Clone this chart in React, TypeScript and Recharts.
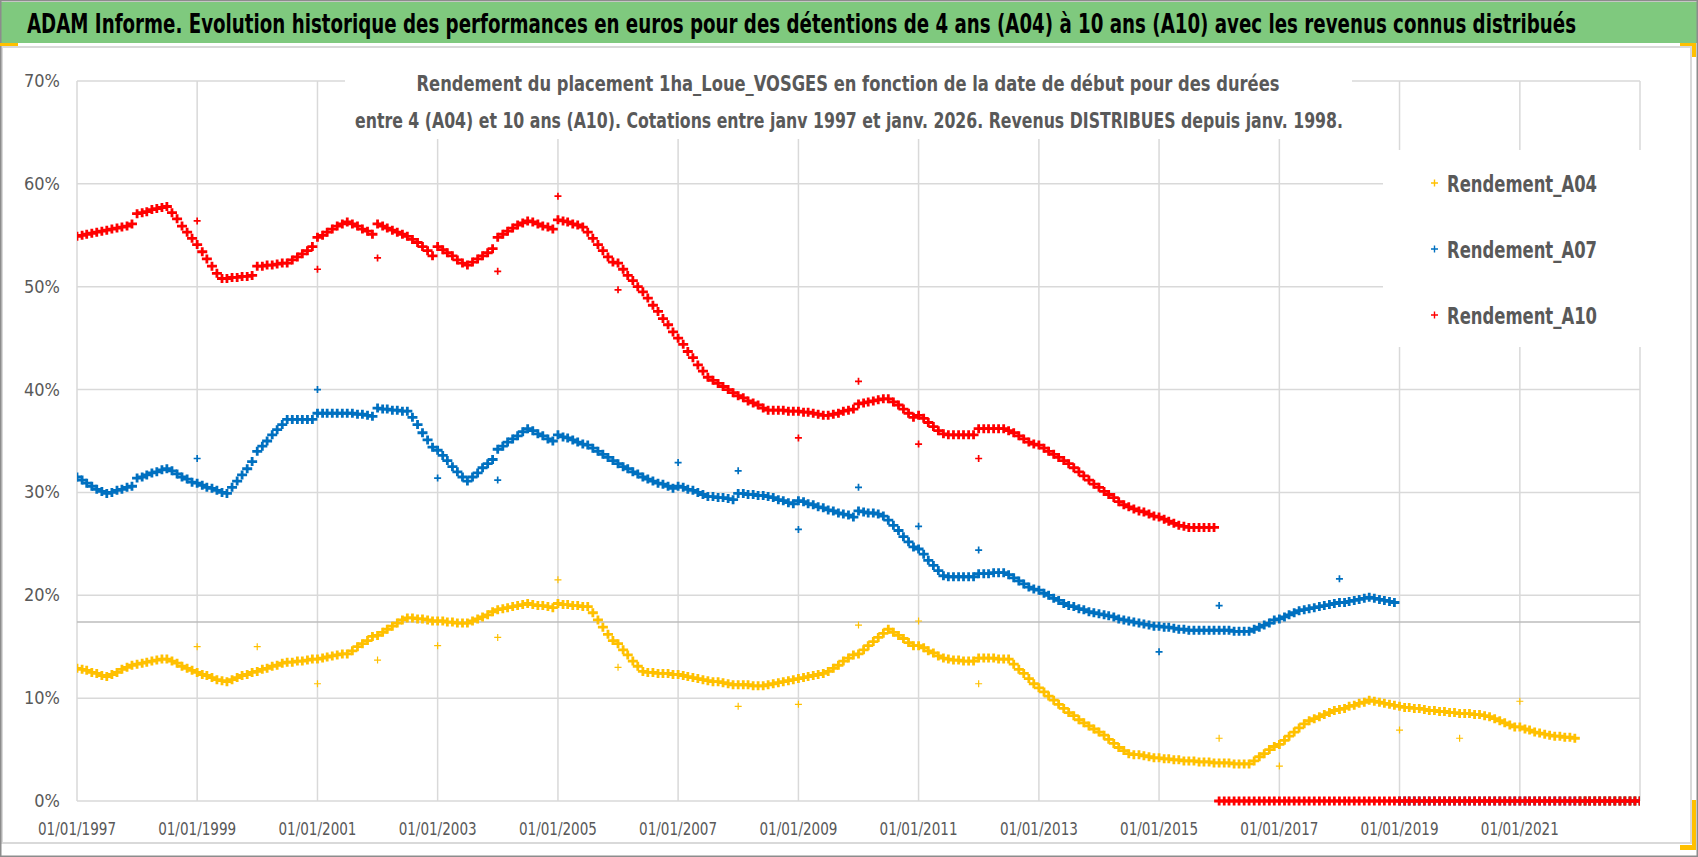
import { ScatterChart, Scatter, XAxis, YAxis, CartesianGrid, ReferenceLine, Legend } from 'recharts';

// monthly values (1st of each month), one row per year
const A04_START = 1997;
const A04_MONTHLY: number[][] = [
  [12.9, 12.8, 12.7, 12.5, 12.4, 12.2, 12.1, 12.3, 12.5, 12.8, 13.0, 13.2],
  [13.3, 13.4, 13.5, 13.6, 13.7, 13.8, 13.8, 13.6, 13.4, 13.1, 12.9, 12.7],
  [12.5, 12.3, 12.2, 12.0, 11.8, 11.7, 11.6, 11.8, 12.0, 12.2, 12.3, 12.5],
  [12.6, 12.8, 12.9, 13.1, 13.2, 13.4, 13.5, 13.5, 13.6, 13.6, 13.7, 13.8],
  [13.8, 13.9, 14.0, 14.1, 14.2, 14.3, 14.3, 14.6, 15.0, 15.3, 15.6, 16.0],
  [16.1, 16.4, 16.7, 17.0, 17.3, 17.6, 17.8, 17.8, 17.7, 17.7, 17.6, 17.5],
  [17.5, 17.5, 17.4, 17.4, 17.3, 17.3, 17.3, 17.5, 17.7, 17.9, 18.1, 18.4],
  [18.6, 18.7, 18.8, 18.9, 19.0, 19.1, 19.2, 19.1, 19.0, 19.0, 18.9, 18.8],
  [19.2, 19.1, 19.1, 19.0, 19.0, 18.9, 18.9, 18.3, 17.6, 16.9, 16.2, 15.6],
  [15.3, 14.7, 14.2, 13.6, 13.1, 12.6, 12.5, 12.5, 12.4, 12.4, 12.4, 12.3],
  [12.3, 12.2, 12.1, 12.0, 11.9, 11.8, 11.7, 11.6, 11.6, 11.5, 11.4, 11.3],
  [11.3, 11.3, 11.3, 11.2, 11.2, 11.2, 11.3, 11.4, 11.5, 11.6, 11.7, 11.8],
  [11.9, 12.0, 12.1, 12.2, 12.3, 12.4, 12.6, 12.9, 13.2, 13.6, 13.9, 14.2],
  [14.3, 14.7, 15.1, 15.5, 15.9, 16.3, 16.7, 16.4, 16.1, 15.8, 15.4, 15.1],
  [15.1, 14.9, 14.6, 14.4, 14.1, 13.9, 13.8, 13.7, 13.7, 13.6, 13.6, 13.6],
  [13.9, 13.9, 13.9, 13.9, 13.8, 13.8, 13.8, 13.3, 12.8, 12.4, 11.9, 11.4],
  [11.0, 10.6, 10.2, 9.8, 9.4, 9.0, 8.6, 8.3, 7.9, 7.6, 7.3, 7.0],
  [6.7, 6.4, 6.0, 5.6, 5.2, 4.9, 4.6, 4.5, 4.5, 4.4, 4.3, 4.2],
  [4.2, 4.1, 4.1, 4.0, 4.0, 3.9, 3.9, 3.9, 3.8, 3.8, 3.8, 3.7],
  [3.7, 3.7, 3.7, 3.6, 3.6, 3.6, 3.6, 3.9, 4.3, 4.6, 5.0, 5.3],
  [5.5, 5.9, 6.3, 6.7, 7.1, 7.5, 7.8, 8.0, 8.2, 8.4, 8.6, 8.8],
  [8.9, 9.0, 9.2, 9.3, 9.5, 9.6, 9.8, 9.7, 9.6, 9.5, 9.4, 9.3],
  [9.2, 9.1, 9.1, 9.0, 9.0, 8.9, 8.8, 8.8, 8.7, 8.7, 8.6, 8.6],
  [8.5, 8.5, 8.5, 8.4, 8.4, 8.3, 8.2, 8.0, 7.8, 7.6, 7.4, 7.2],
  [7.2, 7.0, 6.9, 6.7, 6.6, 6.5, 6.4, 6.3, 6.3, 6.2, 6.2, 6.1],
  [0, 0, 0, 0, 0, 0, 0, 0, 0, 0, 0, 0],
  [0],
];

const A07_START = 1997;
const A07_MONTHLY: number[][] = [
  [31.5, 31.2, 30.9, 30.6, 30.3, 30.1, 29.9, 30.0, 30.2, 30.3, 30.5, 30.6],
  [31.4, 31.5, 31.7, 31.9, 32.0, 32.2, 32.3, 32.1, 31.8, 31.5, 31.3, 31.0],
  [30.9, 30.7, 30.5, 30.4, 30.2, 30.0, 29.9, 30.5, 31.1, 31.7, 32.3, 33.0],
  [34.0, 34.5, 35.0, 35.6, 36.1, 36.6, 37.1, 37.1, 37.1, 37.1, 37.1, 37.1],
  [37.7, 37.7, 37.7, 37.7, 37.7, 37.7, 37.7, 37.7, 37.6, 37.6, 37.5, 37.4],
  [38.2, 38.1, 38.1, 38.0, 38.0, 37.9, 37.9, 37.3, 36.6, 35.8, 35.1, 34.4],
  [34.1, 33.6, 33.1, 32.5, 32.0, 31.5, 31.1, 31.5, 31.9, 32.4, 32.8, 33.2],
  [34.2, 34.5, 34.9, 35.2, 35.5, 35.9, 36.2, 36.0, 35.7, 35.5, 35.2, 35.0],
  [35.6, 35.4, 35.3, 35.1, 34.9, 34.7, 34.6, 34.3, 34.0, 33.7, 33.4, 33.1],
  [32.8, 32.5, 32.3, 32.0, 31.8, 31.5, 31.3, 31.1, 30.9, 30.8, 30.6, 30.4],
  [30.6, 30.5, 30.3, 30.2, 30.0, 29.8, 29.6, 29.6, 29.5, 29.5, 29.4, 29.3],
  [29.9, 29.9, 29.8, 29.8, 29.7, 29.7, 29.6, 29.5, 29.3, 29.2, 29.0, 28.9],
  [29.2, 29.1, 28.9, 28.8, 28.6, 28.5, 28.3, 28.2, 28.0, 27.9, 27.8, 27.6],
  [28.2, 28.1, 28.0, 28.0, 27.9, 27.7, 27.3, 26.8, 26.3, 25.7, 25.2, 24.7],
  [24.5, 24.0, 23.4, 22.9, 22.4, 21.9, 21.8, 21.8, 21.8, 21.8, 21.8, 21.8],
  [22.1, 22.1, 22.1, 22.2, 22.2, 22.2, 22.0, 21.7, 21.4, 21.1, 20.8, 20.6],
  [20.5, 20.2, 20.0, 19.7, 19.5, 19.2, 19.0, 18.9, 18.7, 18.6, 18.4, 18.3],
  [18.2, 18.1, 18.0, 17.9, 17.7, 17.6, 17.5, 17.4, 17.3, 17.2, 17.1, 17.0],
  [17.0, 16.9, 16.9, 16.8, 16.7, 16.7, 16.6, 16.6, 16.6, 16.6, 16.6, 16.6],
  [16.6, 16.6, 16.6, 16.5, 16.5, 16.5, 16.5, 16.7, 16.9, 17.1, 17.3, 17.6],
  [17.7, 17.9, 18.1, 18.3, 18.5, 18.6, 18.7, 18.8, 18.9, 19.0, 19.1, 19.2],
  [19.3, 19.3, 19.4, 19.5, 19.6, 19.7, 19.8, 19.7, 19.6, 19.5, 19.4, 19.3],
  [0, 0, 0, 0, 0, 0, 0, 0, 0, 0, 0, 0],
  [0, 0, 0, 0, 0, 0, 0, 0, 0, 0, 0, 0],
  [0, 0, 0, 0, 0, 0, 0, 0, 0, 0, 0, 0],
  [0, 0, 0, 0, 0, 0, 0, 0, 0, 0, 0, 0],
  [0],
];

const A10_START = 1997;
const A10_MONTHLY: number[][] = [
  [54.9, 55.0, 55.1, 55.2, 55.3, 55.4, 55.5, 55.6, 55.7, 55.8, 55.9, 56.1],
  [57.1, 57.2, 57.3, 57.5, 57.6, 57.7, 57.8, 57.2, 56.6, 55.9, 55.3, 54.7],
  [54.1, 53.4, 52.7, 52.0, 51.3, 50.8, 50.8, 50.9, 50.9, 51.0, 51.0, 51.1],
  [52.0, 52.0, 52.1, 52.1, 52.2, 52.3, 52.3, 52.6, 52.9, 53.2, 53.5, 53.9],
  [54.8, 55.0, 55.3, 55.6, 55.9, 56.1, 56.3, 56.1, 55.9, 55.6, 55.4, 55.1],
  [56.1, 55.9, 55.7, 55.5, 55.3, 55.1, 54.9, 54.6, 54.3, 53.9, 53.5, 53.0],
  [53.9, 53.6, 53.3, 53.0, 52.6, 52.3, 52.1, 52.4, 52.7, 53.0, 53.3, 53.7],
  [54.8, 55.1, 55.4, 55.7, 56.0, 56.2, 56.4, 56.3, 56.1, 55.9, 55.8, 55.6],
  [56.5, 56.4, 56.3, 56.1, 56.0, 55.8, 55.3, 54.7, 54.1, 53.5, 52.9, 52.4],
  [52.3, 51.7, 51.1, 50.6, 50.0, 49.5, 48.9, 48.2, 47.6, 46.9, 46.3, 45.6],
  [45.0, 44.4, 43.7, 43.1, 42.4, 41.8, 41.2, 40.9, 40.6, 40.3, 40.0, 39.7],
  [39.4, 39.2, 38.9, 38.7, 38.5, 38.2, 38.0, 38.0, 38.0, 38.0, 37.9, 37.9],
  [37.9, 37.8, 37.8, 37.7, 37.6, 37.5, 37.5, 37.6, 37.7, 37.9, 38.0, 38.1],
  [38.6, 38.7, 38.8, 38.9, 39.0, 39.1, 39.1, 38.8, 38.5, 38.1, 37.7, 37.3],
  [37.5, 37.2, 36.8, 36.4, 36.0, 35.7, 35.6, 35.6, 35.6, 35.6, 35.6, 35.6],
  [36.2, 36.2, 36.2, 36.2, 36.2, 36.2, 36.0, 35.8, 35.5, 35.2, 34.9, 34.7],
  [34.6, 34.3, 34.0, 33.7, 33.4, 33.1, 32.8, 32.4, 32.0, 31.6, 31.2, 30.8],
  [30.5, 30.1, 29.8, 29.5, 29.1, 28.8, 28.6, 28.4, 28.2, 28.1, 27.9, 27.7],
  [27.6, 27.4, 27.2, 27.0, 26.8, 26.7, 26.6, 26.6, 26.6, 26.6, 26.6, 26.6],
  [0, 0, 0, 0, 0, 0, 0, 0, 0, 0, 0, 0],
  [0, 0, 0, 0, 0, 0, 0, 0, 0, 0, 0, 0],
  [0, 0, 0, 0, 0, 0, 0, 0, 0, 0, 0, 0],
  [0, 0, 0, 0, 0, 0, 0, 0, 0, 0, 0, 0],
  [0, 0, 0, 0, 0, 0, 0, 0, 0, 0, 0, 0],
  [0, 0, 0, 0, 0, 0, 0, 0, 0, 0, 0, 0],
  [0, 0, 0, 0, 0, 0, 0, 0, 0, 0, 0, 0],
  [0],
];

// values on 1 January that stand off the curve: [year, value]
const A04_JAN: [number, number][] = [
  [1999, 15.0], [2000, 15.0], [2001, 11.4], [2002, 13.7], [2003, 15.1], [2004, 15.9],
  [2005, 21.5], [2006, 13.0], [2008, 9.2], [2009, 9.4], [2010, 17.1], [2011, 17.5],
  [2012, 11.4], [2016, 6.1], [2017, 3.4], [2019, 6.9], [2020, 6.1], [2021, 9.7],
];
const A07_JAN: [number, number][] = [
  [1999, 33.3], [2001, 40.0], [2003, 31.4], [2004, 31.2], [2007, 32.9], [2008, 32.1],
  [2009, 26.4], [2010, 30.5], [2011, 26.7], [2012, 24.4], [2015, 14.5], [2016, 19.0],
  [2018, 21.6],
];
const A10_JAN: [number, number][] = [
  [1999, 56.4], [2001, 51.7], [2002, 52.8], [2004, 51.5], [2005, 58.8], [2006, 49.7],
  [2009, 35.3], [2010, 40.8], [2011, 34.7], [2012, 33.3],
];

const X_TICK_YEARS = [1997, 1999, 2001, 2003, 2005, 2007, 2009, 2011, 2013, 2015, 2017, 2019, 2021];
const Y_TICKS = [0, 10, 20, 30, 40, 50, 60, 70];
const MARK_LINE = 17.4;

const TITLE = 'ADAM Informe. Evolution historique des performances en euros pour des détentions de 4 ans (A04) à 10 ans (A10) avec les revenus connus distribués';
const SUB_1 = 'Rendement du placement 1ha_Loue_VOSGES en fonction de la date de début pour des durées';
const SUB_2 = 'entre 4 (A04) et 10 ans (A10).  Cotations entre janv 1997 et janv. 2026. Revenus DISTRIBUES depuis janv. 1998.';

const YELLOW = '#FFC000';
const BLUE = '#0070C0';
const RED = '#FF0000';
const GREY_TXT = '#595959';
const FONT = "'Liberation Sans Narrow', 'DejaVu Sans Condensed', 'Liberation Sans', sans-serif";

const toPoints = (start: number, rows: number[][]) =>
  rows.flatMap((row, i) => row.map((v, m) => ({ x: Date.UTC(start + i, m, 1), y: v })));
const janPoints = (list: [number, number][]) => list.map(([yr, v]) => ({ x: Date.UTC(yr, 0, 1), y: v }));

// "+" marker; hw / hh = half width / half height of the arms
const plus = (color: string, hw: number, hh: number, sw: number) => (p: any) => {
  if (p.cx == null || p.cy == null) return <g />;
  return (
    <path
      d={`M${p.cx - hw},${p.cy}H${p.cx + hw}M${p.cx},${p.cy - hh}V${p.cy + hh}`}
      stroke={color}
      strokeWidth={sw}
      fill="none"
    />
  );
};

const XTick = (p: any) => {
  const yr = new Date(p.payload.value).getUTCFullYear();
  return (
    <text x={p.x} y={p.y + 34} textAnchor="middle" fontFamily={FONT} fontSize={18} fill={GREY_TXT}
      textLength={78} lengthAdjust="spacingAndGlyphs">
      {`01/01/${yr}`}
    </text>
  );
};

const YTick = (p: any) => (
  <text x={p.x - 17} y={p.y + 6} textAnchor="end" fontFamily={FONT} fontSize={18} fill={GREY_TXT}>
    {`${p.payload.value}%`}
  </text>
);

const renderLegend = (props: any) => {
  const items = (props.payload || []).filter((e: any) => e.type !== 'none');
  return (
    <svg width={310} height={197} style={{ display: 'block', overflow: 'visible' }}>
      {items.map((e: any, i: number) => {
        const cy = 33 + i * 66;
        return (
          <g key={e.value}>
            <path d={`M48,${cy}H55M51.5,${cy - 3.5}V${cy + 3.5}`} stroke={e.color} strokeWidth={1.4} />
            <text x={64} y={cy + 9} fontFamily={FONT} fontWeight="bold" fontSize={23} fill={GREY_TXT}
              textLength={150} lengthAdjust="spacingAndGlyphs">
              {e.value}
            </text>
          </g>
        );
      })}
    </svg>
  );
};

export default function App() {
  const a04 = toPoints(A04_START, A04_MONTHLY);
  const a07 = toPoints(A07_START, A07_MONTHLY);
  const a10 = toPoints(A10_START, A10_MONTHLY);
  const xTicks = X_TICK_YEARS.map((y) => Date.UTC(y, 0, 1));

  return (
    <div style={{ position: 'absolute', left: 0, top: 0, width: 1698, height: 857, background: '#fff', overflow: 'hidden' }}>
      <ScatterChart width={1698} height={857} margin={{ top: 81, right: 58, bottom: 16, left: 0 }}>
        <CartesianGrid stroke="#d9d9d9" strokeWidth={1.5} />
        <XAxis type="number" dataKey="x" domain={[Date.UTC(1997, 0, 1), Date.UTC(2023, 0, 1)]}
          ticks={xTicks} interval={0} height={40} axisLine={false} tickLine={false}
          tickSize={0} tickMargin={0} tick={XTick} allowDataOverflow />
        <YAxis type="number" dataKey="y" domain={[0, 70]} ticks={Y_TICKS} interval={0} width={77}
          axisLine={false} tickLine={false} tickSize={0} tickMargin={0} tick={YTick} />
        <ReferenceLine y={MARK_LINE} stroke="#bdbdbd" strokeWidth={1.5} />
        <Legend layout="horizontal" verticalAlign="middle" align="center" content={renderLegend}
          wrapperStyle={{ left: 1383, top: 150, width: 310, height: 197, background: '#fff' }} />
        <Scatter name="Rendement_A04" data={a04} fill={YELLOW} shape={plus(YELLOW, 5, 4.5, 2.8)} isAnimationActive={false} />
        <Scatter name="A04_jan" data={janPoints(A04_JAN)} fill={YELLOW} legendType="none" shape={plus(YELLOW, 3.5, 3.5, 1.2)} isAnimationActive={false} />
        <Scatter name="Rendement_A07" data={a07} fill={BLUE} shape={plus(BLUE, 5, 4.5, 2.8)} isAnimationActive={false} />
        <Scatter name="A07_jan" data={janPoints(A07_JAN)} fill={BLUE} legendType="none" shape={plus(BLUE, 3.5, 3.5, 1.7)} isAnimationActive={false} />
        <Scatter name="Rendement_A10" data={a10} fill={RED} shape={plus(RED, 5, 4.5, 2.8)} isAnimationActive={false} />
        <Scatter name="A10_jan" data={janPoints(A10_JAN)} fill={RED} legendType="none" shape={plus(RED, 3.5, 3.5, 1.7)} isAnimationActive={false} />
      </ScatterChart>

      <svg width={1698} height={857} style={{ position: 'absolute', left: 0, top: 0, pointerEvents: 'none' }}>
        {/* frame and header band */}
        <rect x={2} y={47} width={1689} height={796} fill="none" stroke="#d9d9d9" strokeWidth={2} />
        <rect x={1} y={2} width={1696} height={41} fill="#7fc97e" />
        <rect x={0.75} y={0.75} width={1696.5} height={855.5} fill="none" stroke="#8c8c8c" strokeWidth={1.5} />
        <rect x={0} y={43} width={18} height={3} fill={YELLOW} />
        <rect x={1680} y={43} width={16} height={3} fill={YELLOW} />
        <rect x={1692} y={43} width={4} height={14} fill={YELLOW} />
        <rect x={1692} y={800} width={4} height={50} fill={YELLOW} />
        <rect x={1680} y={845} width={16} height={5} fill={YELLOW} />
        <text transform="translate(27,33) scale(1,1.2)" x={0} y={0} fontFamily={FONT} fontWeight="bold"
          fontSize={21.5} fill="#000" textLength={1549} lengthAdjust="spacingAndGlyphs">
          {TITLE}
        </text>

        {/* chart title box */}
        <rect x={345} y={58} width={1007} height={81} fill="#fff" />
        <text x={848} y={91} textAnchor="middle" fontFamily={FONT} fontWeight="bold" fontSize={22}
          fill={GREY_TXT} textLength={863} lengthAdjust="spacingAndGlyphs">
          {SUB_1}
        </text>
        <text x={849} y={128} textAnchor="middle" fontFamily={FONT} fontWeight="bold" fontSize={22}
          fill={GREY_TXT} textLength={988} lengthAdjust="spacingAndGlyphs">
          {SUB_2}
        </text>
      </svg>
    </div>
  );
}
